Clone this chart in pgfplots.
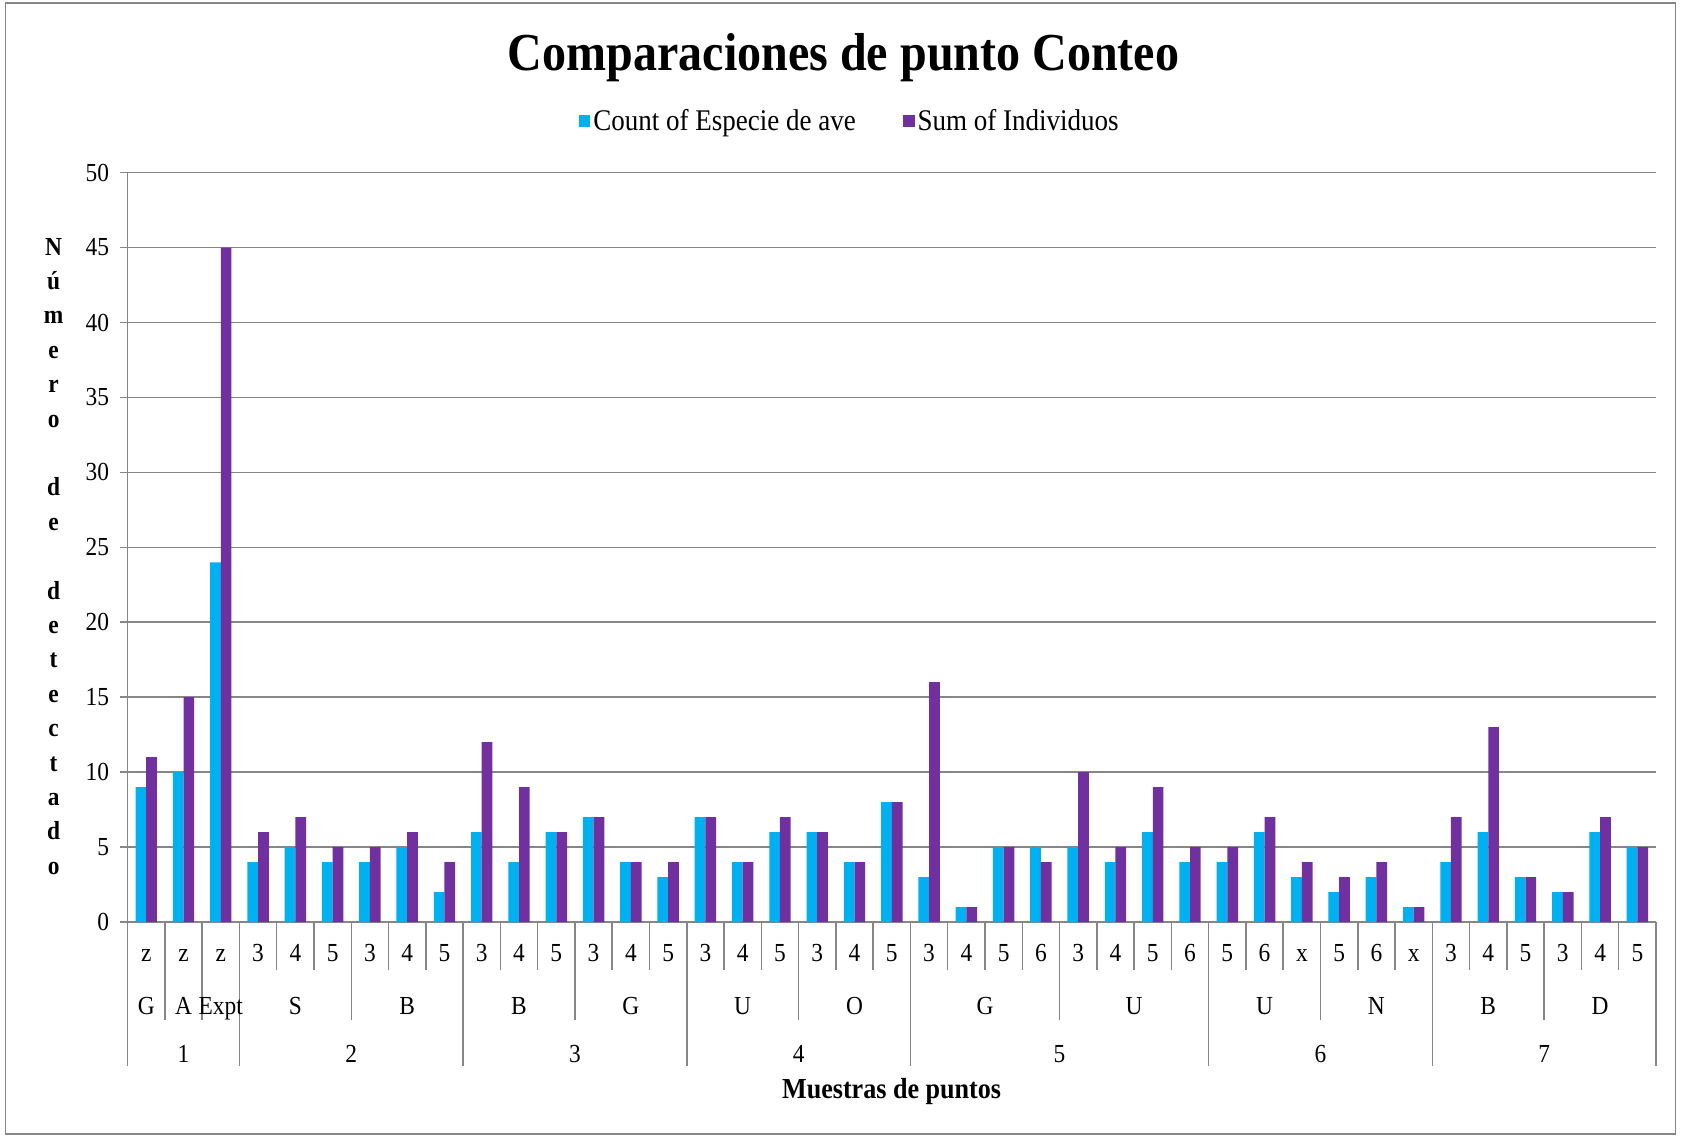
\documentclass[border=0pt]{standalone}
\usepackage{fontspec}
\setmainfont{Liberation Serif}[FakeStretch=0.9]
\usepackage{pgfplots}
\pgfplotsset{compat=1.18}
\definecolor{cA}{HTML}{00B0F0}
\definecolor{cB}{HTML}{7030A0}
\definecolor{gl}{HTML}{868686}
\begin{document}
\begin{tikzpicture}
\useasboundingbox (-63.8pt,-107pt) rectangle (776.7pt,461pt);
\draw[gl, line width=0.75pt] (-61.1pt,-106pt) rectangle (774pt,459.4pt);
\begin{axis}[
  at={(0pt,0pt)}, anchor=south west,
  scale only axis, width=764.2pt, height=374.7pt,
  xmin=-0.5, xmax=40.5, ymin=0, ymax=50,
  ybar=0pt, bar width=5.35pt,
  axis x line*=bottom, axis y line*=left,
  axis line style={gl, line width=0.75pt, -},
  xtick=\empty,
  ytick={0,5,...,50},
  ymajorgrids, grid style={gl, line width=0.75pt},
  ytick style={gl, line width=0.75pt}, tick align=outside, major tick length=3.7pt,
  /pgf/number format/assume math mode=true,
  yticklabel style={font=\fontsize{13}{15}\selectfont, xshift=-2pt},
  legend style={at={(0.4727,1.0686)}, anchor=center, draw=none, fill=none,
    legend columns=2, font=\fontsize{15}{17}\selectfont,
    /tikz/every even column/.append style={column sep=22pt},
    inner sep=0pt, nodes={inner sep=1.5pt}},
  legend image code/.code={\fill[#1] (0pt,-2.95pt) rectangle (5.9pt,2.95pt);},
  clip=false,
]
\addplot[fill=cA, draw=none] coordinates {
 (0,9) (1,10) (2,24) (3,4) (4,5) (5,4) (6,4) (7,5) (8,2)
 (9,6) (10,4) (11,6) (12,7) (13,4) (14,3)
 (15,7) (16,4) (17,6) (18,6) (19,4) (20,8)
 (21,3) (22,1) (23,5) (24,5) (25,5) (26,4) (27,6) (28,4)
 (29,4) (30,6) (31,3) (32,2) (33,3) (34,1)
 (35,4) (36,6) (37,3) (38,2) (39,6) (40,5)};
\addplot[fill=cB, draw=none] coordinates {
 (0,11) (1,15) (2,45) (3,6) (4,7) (5,5) (6,5) (7,6) (8,4)
 (9,12) (10,9) (11,6) (12,7) (13,4) (14,4)
 (15,7) (16,4) (17,7) (18,6) (19,4) (20,8)
 (21,16) (22,1) (23,5) (24,4) (25,10) (26,5) (27,9) (28,5)
 (29,5) (30,7) (31,4) (32,3) (33,4) (34,1)
 (35,7) (36,13) (37,3) (38,2) (39,7) (40,5)};
\legend{Count of Especie de ave, Sum of Individuos}
\end{axis}
\def\cw{18.6390}
% title
\node[anchor=base, font=\bfseries\fontsize{26.7}{30}\selectfont, inner sep=0pt] at (358pt,425.6pt) {Comparaciones de punto Conteo};
% y label
\node[font=\bfseries\fontsize{13}{17.2}\selectfont, align=center, inner sep=0pt] at (-37pt,182.8pt)
 {N\\ú\\m\\e\\r\\o\\[17.2pt]d\\e\\[17.2pt]d\\e\\t\\e\\c\\t\\a\\d\\o};
% level 1 separators
\foreach \k in {1,...,40} \draw[gl, line width=0.75pt] ({\k*\cw pt},0pt) -- ({\k*\cw pt},-24pt);
% level 2 separators
\foreach \k in {0.5,1.5,5.5,11.5,17.5,24.5,31.5,37.5} \draw[gl, line width=0.75pt] ({(\k+0.5)*\cw pt},0pt) -- ({(\k+0.5)*\cw pt},-49pt);
% level 3 separators
\foreach \k in {-0.5,2.5,8.5,14.5,20.5,28.5,34.5,40.5} \draw[gl, line width=0.75pt] ({(\k+0.5)*\cw pt},0pt) -- ({(\k+0.5)*\cw pt},-72pt);
% level 1 labels
\foreach \l [count=\c from 0] in {z,z,z,3,4,5,3,4,5,3,4,5,3,4,5,3,4,5,3,4,5,3,4,5,6,3,4,5,6,5,6,x,5,6,x,3,4,5,3,4,5}
  \node[anchor=base, inner sep=0pt, font=\fontsize{13}{15}\selectfont] at ({(\c+0.5)*\cw pt},-19.8pt) {\l};
% level 2 labels
\foreach \p/\l in {0/G,1/A,2/Expt,4/S,7/B,10/B,13/G,16/U,19/O,22.5/G,26.5/U,30/U,33/N,36/B,39/D}
  \node[anchor=base, inner sep=0pt, font=\fontsize{13}{15}\selectfont] at ({(\p+0.5)*\cw pt},-46pt) {\l};
% level 3 labels
\foreach \p/\l in {1/1,5.5/2,11.5/3,17.5/4,24.5/5,31.5/6,37.5/7}
  \node[anchor=base, inner sep=0pt, font=\fontsize{13}{15}\selectfont] at ({(\p+0.5)*\cw pt},-70pt) {\l};
% x label
\node[anchor=base, inner sep=0pt, font=\bfseries\fontsize{14.5}{16}\selectfont] at (382pt,-88pt) {Muestras de puntos};
\end{tikzpicture}
\end{document}
